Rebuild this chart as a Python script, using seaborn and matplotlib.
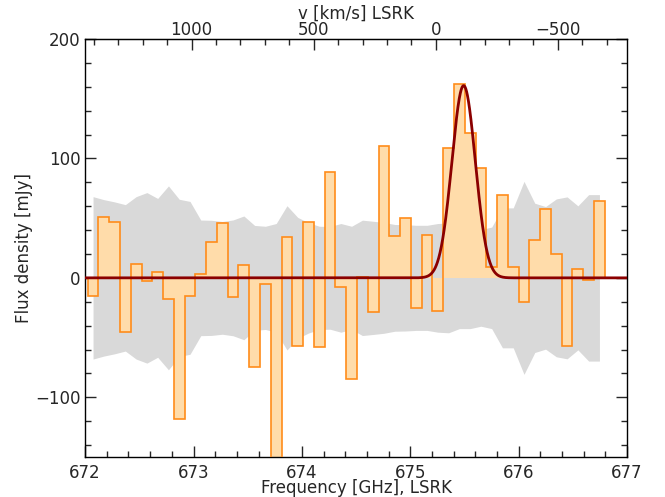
import numpy as np
import matplotlib.pyplot as plt
import matplotlib.ticker as mticker
import seaborn as sns

# estilo
sns.set_style("ticks")
plt.rcParams['font.family'] = ['DejaVu Sans']
plt.rcParams['font.size'] = 12
plt.rcParams['xtick.direction'] = 'in'
plt.rcParams['ytick.direction'] = 'in'

# canales del espectro (GHz, LSRK)
f_first = 672.073
chan_width = 0.0994
n_chan = 48

# flujo por canal [mJy]
flux = [-15, 51, 47, -45, 12, -3, 5, -18, -118, -15,
        3, 30, 46, -16, 11, -75, -5, -165, 34, -57,
        46.5, -58, 89, -8, -85, 0.5, -29, 110, 35, 50,
        -25, 35.5, -27.5, 109, 162, 121, 92, 9, 69, 9,
        -20, 31.5, 58, 20, -57, 7.5, -1.5, 64]

# ruido rms por canal [mJy]
rms = [68, 65.5, 63.6, 61.3, 68, 71.4, 66.5, 77, 65.8, 64,
       48.4, 48.2, 47.2, 48.5, 51.8, 43.9, 43.2, 45.5, 60.4, 50.6,
       46.2, 43.2, 43, 45.5, 43.2, 48.3, 47.4, 46.4, 44.7, 44.5,
       44, 44, 45.5, 46, 42.5, 42.5, 40.5, 42.5, 58.6, 58.6,
       80.8, 62.5, 59.7, 66.1, 67.8, 60.3, 69.7, 69.7]

# ajuste gaussiano
g_amp = 161.0      # mJy
g_center = 675.492  # GHz
g_sigma = 0.108     # GHz

# frecuencia de referencia para la velocidad
f_rest = 675.235
c_kms = 299792.458

freq = f_first + chan_width * np.arange(n_chan)
edges = np.append(freq - chan_width / 2, freq[-1] + chan_width / 2)
flux = np.array(flux)
rms = np.array(rms)

f_model = np.linspace(672, 677, 2000)
model = g_amp * np.exp(-0.5 * ((f_model - g_center) / g_sigma) ** 2)


def f2v(f):
    return c_kms * (1 - np.asarray(f) / f_rest)


def v2f(v):
    return f_rest * (1 - np.asarray(v) / c_kms)


fig = plt.figure(figsize=(6.65, 4.97), dpi=100)
ax = fig.add_axes([0.128, 0.0805, 0.815, 0.841])

ax.fill_between(freq, -rms, rms, color='#d9d9d9', lw=0, zorder=1)
ax.stairs(flux, edges, baseline=0, fill=True, color='#ffdcaa', zorder=2)
ax.stairs(flux, edges, baseline=0, fill=False, color='#ff8c1a', lw=1.2, zorder=3)
sns.lineplot(x=f_model, y=model, ax=ax, color='darkred', lw=2, zorder=4)

ax.set_xlim(672, 677)
ax.set_ylim(-150, 200)
ax.set_xlabel('Frequency [GHz], LSRK')
ax.set_ylabel('Flux density [mJy]')
ax.xaxis.set_label_coords(0.5, -0.053)
ax.yaxis.set_label_coords(-0.096, 0.5)

ax.xaxis.set_major_locator(mticker.MultipleLocator(1))
ax.xaxis.set_minor_locator(mticker.MultipleLocator(0.2))
ax.yaxis.set_major_locator(mticker.MultipleLocator(100))
ax.yaxis.set_minor_locator(mticker.MultipleLocator(20))
ax.tick_params(which='both', direction='in', right=True, top=False, width=1)
ax.tick_params(which='major', length=8)
ax.tick_params(which='minor', length=4)
ax.tick_params(axis='x', which='major', pad=5.4)

sec = ax.secondary_xaxis('top', functions=(f2v, v2f))
sec.set_xlabel('v [km/s] LSRK')
sec.xaxis.set_label_coords(0.5, 1.049, transform=ax.transAxes)
sec.xaxis.set_major_locator(mticker.MultipleLocator(500))
sec.xaxis.set_minor_locator(mticker.MultipleLocator(100))
sec.tick_params(which='both', direction='in', width=1, pad=0.3)
sec.tick_params(which='major', length=8)
sec.tick_params(which='minor', length=4)

for s in ax.spines.values():
    s.set_linewidth(1)
    s.set_color('black')

plt.savefig('out.png', dpi=100)
